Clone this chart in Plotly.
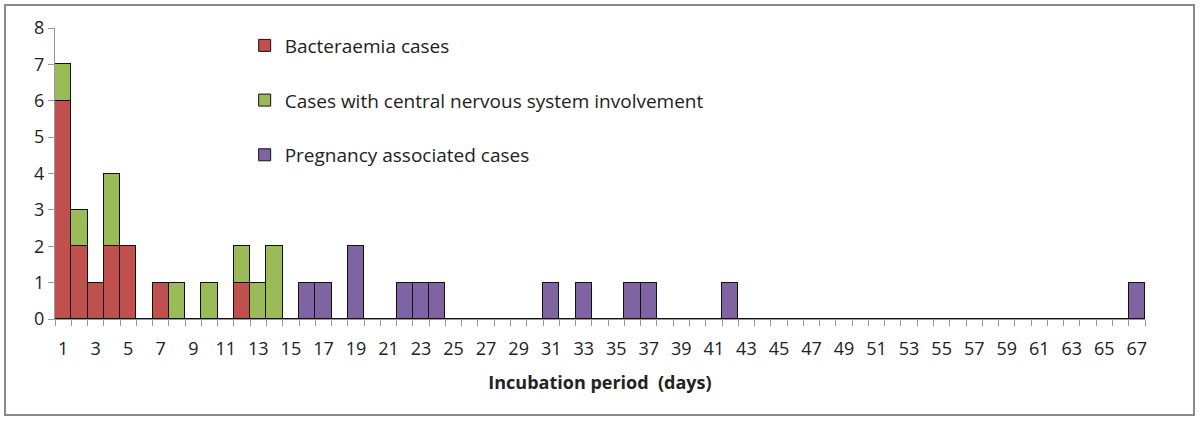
import plotly.graph_objects as go

days = list(range(1, 68))
bacteraemia = {1: 6, 2: 2, 3: 1, 4: 2, 5: 2, 7: 1, 12: 1}
cns = {1: 1, 2: 1, 4: 2, 8: 1, 10: 1, 12: 1, 13: 1, 14: 2}
pregnancy = {16: 1, 17: 1, 19: 2, 22: 1, 23: 1, 24: 1, 31: 1, 33: 1, 36: 1, 37: 1, 42: 1, 67: 1}

series = [
    ("Bacteraemia cases", bacteraemia, "#C0504D"),
    ("Cases with central nervous system involvement", cns, "#9BBB59"),
    ("Pregnancy associated cases", pregnancy, "#8064A2"),
]
tick_labels = [str(d) for d in days if d % 2 == 1]
tick_vals = [d for d in days if d % 2 == 1]

FONT = "Open Sans"
fig = go.Figure()
for i, (name, vals, color) in enumerate(series):
    fig.add_trace(go.Bar(
        x=days, y=[vals.get(d, 0) for d in days], name=name,
        marker=dict(color=color, line=dict(color="#111111", width=1)),
        legendgroup=f"g{i}",
    ))
# invisible trace for the boundary tick axis
fig.add_trace(go.Scatter(x=[0.5, 67.5], y=[0, 0], xaxis="x2", mode="lines",
                         line=dict(width=0), showlegend=False, hoverinfo="skip"))

fig.update_layout(
    width=1200, height=422,
    barmode="stack", bargap=0,
    paper_bgcolor="white", plot_bgcolor="white",
    margin=dict(l=55, r=55, t=28, b=103),
    font=dict(family=FONT, color="#222222", size=18),
    showlegend=True,
    legend=dict(x=0.174, y=1.005, xanchor="left", yanchor="top",
                traceorder="grouped", tracegroupgap=27,
                font=dict(size=19, family=FONT), itemwidth=30,
                bgcolor="rgba(0,0,0,0)"),
    xaxis=dict(range=[0.5, 67.5], tickmode="array", tickvals=tick_vals, ticktext=tick_labels,
               ticks="outside", ticklen=13, tickcolor="rgba(0,0,0,0)",
               showline=False, showgrid=False, zeroline=False,
               tickfont=dict(size=18, family=FONT),
               title=dict(text="<b>Incubation period  (days)</b>", font=dict(size=18, family=FONT), standoff=17)),
    xaxis2=dict(range=[0.5, 67.5], overlaying="x", side="bottom", anchor="y",
                tickmode="array", tickvals=[d + 0.5 for d in range(0, 68)],
                showticklabels=False, ticks="outside", ticklen=6, tickcolor="#999999",
                showline=True, linecolor="#999999", linewidth=1, showgrid=False, zeroline=False),
    yaxis=dict(range=[0, 8], dtick=1, ticks="outside", ticklen=6, tickcolor="#999999",
               showline=True, linecolor="#999999", linewidth=1, showgrid=False, zeroline=False,
               tickfont=dict(size=18, family=FONT)),
    shapes=[dict(type="rect", xref="paper", yref="paper",
                 x0=-50/1090, x1=1139/1090, y0=-96/291, y1=1 + 23/291,
                 line=dict(color="#8a8a8a", width=2), fillcolor="rgba(0,0,0,0)", layer="below")],
)
fig.write_html("out.html", config={"displayModeBar": False},
               post_script="document.body.style.margin='0';")
